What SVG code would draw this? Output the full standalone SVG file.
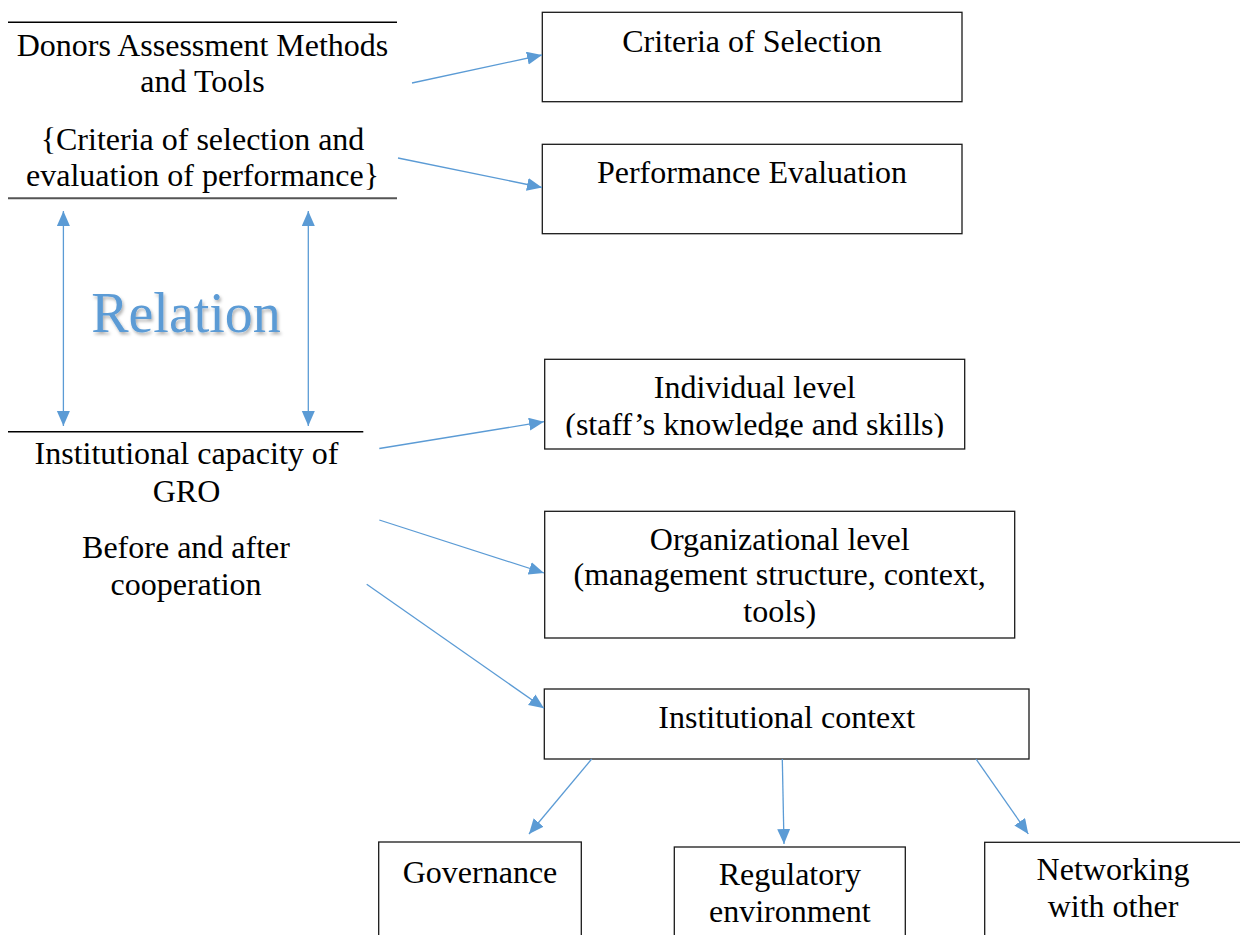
<svg xmlns="http://www.w3.org/2000/svg" width="1240" height="935" viewBox="0 0 1240 935">
<style>
  .t { font-family: "Liberation Serif", "Times New Roman", serif; font-size: 32px; fill: #000; text-anchor: middle; }
  .box { fill: #fff; stroke: #1a1a1a; stroke-width: 1.3; }
  .rule { stroke: #000; stroke-width: 1.4; }
  .con { stroke: #5B9BD5; stroke-width: 1.3; fill: none; marker-end: url(#ah); }
  .dbl { stroke: #5B9BD5; stroke-width: 1.3; fill: none; marker-start: url(#ah); marker-end: url(#ah); }
  .rel { font-family: "Liberation Serif", "Times New Roman", serif; font-size: 56px; fill: #5B9BD5; text-anchor: middle; }
</style>
<defs>
  <marker id="ah" markerUnits="userSpaceOnUse" markerWidth="16" markerHeight="14" refX="15" refY="6.5" orient="auto-start-reverse">
    <path d="M0,0 L15,6.5 L0,13 z" fill="#5B9BD5"/>
  </marker>
  <filter id="sh" x="-10%" y="-20%" width="130%" height="150%">
    <feDropShadow dx="1.5" dy="2.5" stdDeviation="1.5" flood-color="#000" flood-opacity="0.3"/>
  </filter>
  <clipPath id="clipInd">
    <rect x="545" y="360" width="419" height="77.5"/>
  </clipPath>
</defs>
<rect width="1240" height="935" fill="#fff"/>

<g id="donors">
  <line class="rule" x1="8" y1="22.3" x2="397" y2="22.3"/>
  <text class="t" x="202.5" y="55.7">Donors Assessment Methods</text>
  <text class="t" x="202.5" y="91.7">and Tools</text>
  <text class="t" x="202.5" y="150">{Criteria of selection and</text>
  <text class="t" x="202.5" y="186">evaluation of performance}</text>
  <line x1="8" y1="198.3" x2="397" y2="198.3" stroke="#555" stroke-width="2"/>
</g>

<g id="relation">
  <text class="rel" x="186" y="331.7" filter="url(#sh)">Relation</text>
</g>

<g id="institutional">
  <line class="rule" x1="8" y1="431.7" x2="363.3" y2="431.7"/>
  <text class="t" x="186.5" y="464">Institutional capacity of</text>
  <text class="t" x="186.5" y="501.7">GRO</text>
  <text class="t" x="186" y="558.3">Before and after</text>
  <text class="t" x="186" y="595">cooperation</text>
</g>

<g id="criteria">
  <rect class="box" x="542.3" y="12.3" width="419.7" height="89.4"/>
  <text class="t" x="752" y="51.7">Criteria of Selection</text>
</g>

<g id="performance">
  <rect class="box" x="542.3" y="144.3" width="419.7" height="89.4"/>
  <text class="t" x="752" y="183.3">Performance Evaluation</text>
</g>

<g id="individual">
  <rect class="box" x="544.7" y="359.3" width="420" height="89.7"/>
  <text class="t" x="754.7" y="398.3">Individual level</text>
  <text class="t" x="754.7" y="435" clip-path="url(#clipInd)">(staff’s knowledge and skills)</text>
</g>

<g id="organizational">
  <rect class="box" x="544.7" y="511.3" width="470" height="126.7"/>
  <text class="t" x="779.7" y="550">Organizational level</text>
  <text class="t" x="779.7" y="585">(management structure, context,</text>
  <text class="t" x="779.7" y="621.7">tools)</text>
</g>

<g id="context">
  <rect class="box" x="544.3" y="689" width="484.7" height="70"/>
  <text class="t" x="786.7" y="728.3">Institutional context</text>
</g>

<g id="governance">
  <rect class="box" x="378.7" y="842" width="202.6" height="110"/>
  <text class="t" x="480" y="882.7">Governance</text>
</g>

<g id="regulatory">
  <rect class="box" x="674.3" y="847" width="231" height="110"/>
  <text class="t" x="789.8" y="885">Regulatory</text>
  <text class="t" x="789.8" y="921.7">environment</text>
</g>

<g id="networking">
  <rect class="box" x="984.7" y="842.3" width="270" height="110"/>
  <text class="t" x="1113" y="880">Networking</text>
  <text class="t" x="1113" y="917.3">with other</text>
</g>

<g id="connectors">
  <line class="con" x1="412" y1="83" x2="542" y2="55"/>
  <line class="con" x1="398" y1="158" x2="542" y2="187.5"/>
  <line class="dbl" x1="63.4" y1="211" x2="63.4" y2="426"/>
  <line class="dbl" x1="308.3" y1="211" x2="308.3" y2="426"/>
  <line class="con" x1="379.3" y1="448.5" x2="544" y2="421.7"/>
  <line class="con" x1="379.3" y1="520" x2="544" y2="573"/>
  <line class="con" x1="366.7" y1="584.3" x2="544" y2="708.3"/>
  <line class="con" x1="591.7" y1="759" x2="529" y2="834"/>
  <line class="con" x1="782.3" y1="759" x2="784" y2="844"/>
  <line class="con" x1="976" y1="759" x2="1028.3" y2="834"/>
</g>
</svg>
